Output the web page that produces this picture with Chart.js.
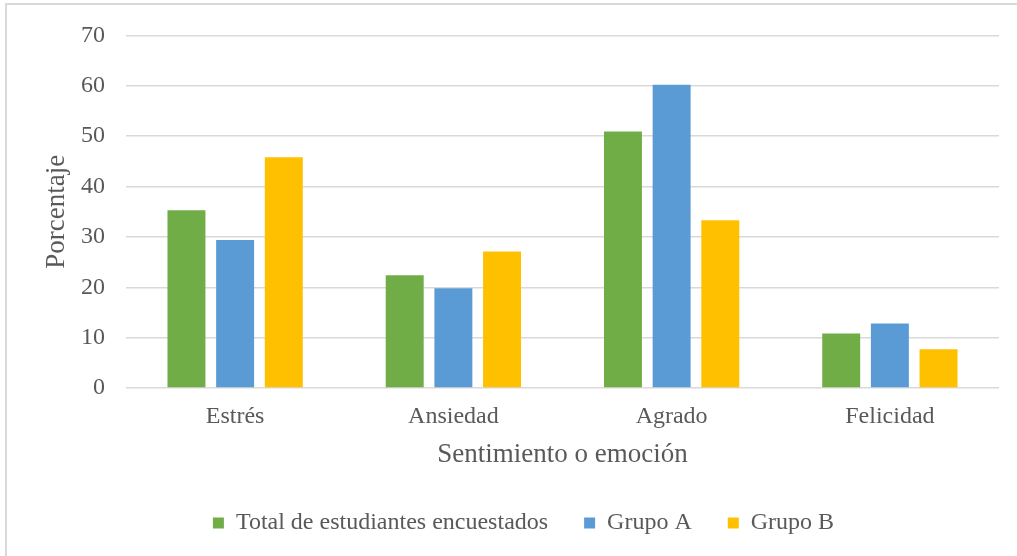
<!DOCTYPE html>
<html lang="es">
<head>
<meta charset="UTF-8">
<title>Sentimiento o emoción</title>
<script src="https://cdn.jsdelivr.net/npm/chart.js"></script>
<style>
    body { margin: 0; background: #fff; overflow: hidden; }
    .marco {
        position: absolute; left: 5px; top: 3px;
        width: 1100px; height: 700px;
        border: 2px solid #d9d9d9;
    }
    #grafico { position: absolute; left: 0; top: 0; }
</style>
</head>
<body>
<div class="marco"></div>
<canvas id="grafico" width="1017" height="556"></canvas>
<script>
    const categorias = ['Estrés', 'Ansiedad', 'Agrado', 'Felicidad'];
    const total = [35.3, 22.4, 50.9, 10.8];
    const grupoA = [29.4, 19.8, 60.2, 12.8];
    const grupoB = [45.8, 27.1, 33.3, 7.7];

    const GRIS = '#595959';
    const FUENTE = 'Liberation Serif, Times New Roman, serif';

    const ctx = document.getElementById('grafico');

    new Chart(ctx, {
        type: 'bar',
        data: {
            labels: categorias,
            datasets: [
                { label: 'Total de estudiantes encuestados', data: total, backgroundColor: '#70ad47' },
                { label: 'Grupo A', data: grupoA, backgroundColor: '#5b9bd5' },
                { label: 'Grupo B', data: grupoB, backgroundColor: '#ffc000' }
            ]
        },
        options: {
            responsive: false,
            animation: false,
            categoryPercentage: 0.669,
            barPercentage: 0.78,
            layout: {
                // el margen izquierdo centra la leyenda como en el original
                padding: { left: 48, top: 31, right: 18, bottom: 11 }
            },
            scales: {
                x: {
                    grid: { display: false, drawTicks: false },
                    border: { display: false },
                    ticks: {
                        color: GRIS,
                        padding: 14.6,
                        font: { family: FUENTE, size: 24 }
                    },
                    title: {
                        display: true,
                        text: 'Sentimiento o emoción',
                        color: GRIS,
                        padding: { top: 0, bottom: 3.8 },
                        font: { family: FUENTE, size: 27 }
                    },
                    afterFit: (escala) => { escala.height = 87; }
                },
                y: {
                    min: 0,
                    max: 70,
                    border: { display: false },
                    grid: { color: '#d9d9d9', lineWidth: 1.5, drawTicks: false },
                    ticks: {
                        stepSize: 10,
                        color: GRIS,
                        padding: 21,
                        font: { family: FUENTE, size: 24 }
                    },
                    title: {
                        display: true,
                        text: 'Porcentaje',
                        color: GRIS,
                        padding: { top: -7.2, bottom: 0 },
                        font: { family: FUENTE, size: 27 }
                    },
                    afterFit: (escala) => { escala.width = 78; }
                }
            },
            plugins: {
                legend: {
                    position: 'bottom',
                    labels: {
                        boxWidth: 11,
                        boxHeight: 11,
                        padding: 36,
                        color: GRIS,
                        font: { family: FUENTE, size: 24 }
                    }
                },
                tooltip: { enabled: false }
            }
        }
    });
</script>
</body>
</html>
